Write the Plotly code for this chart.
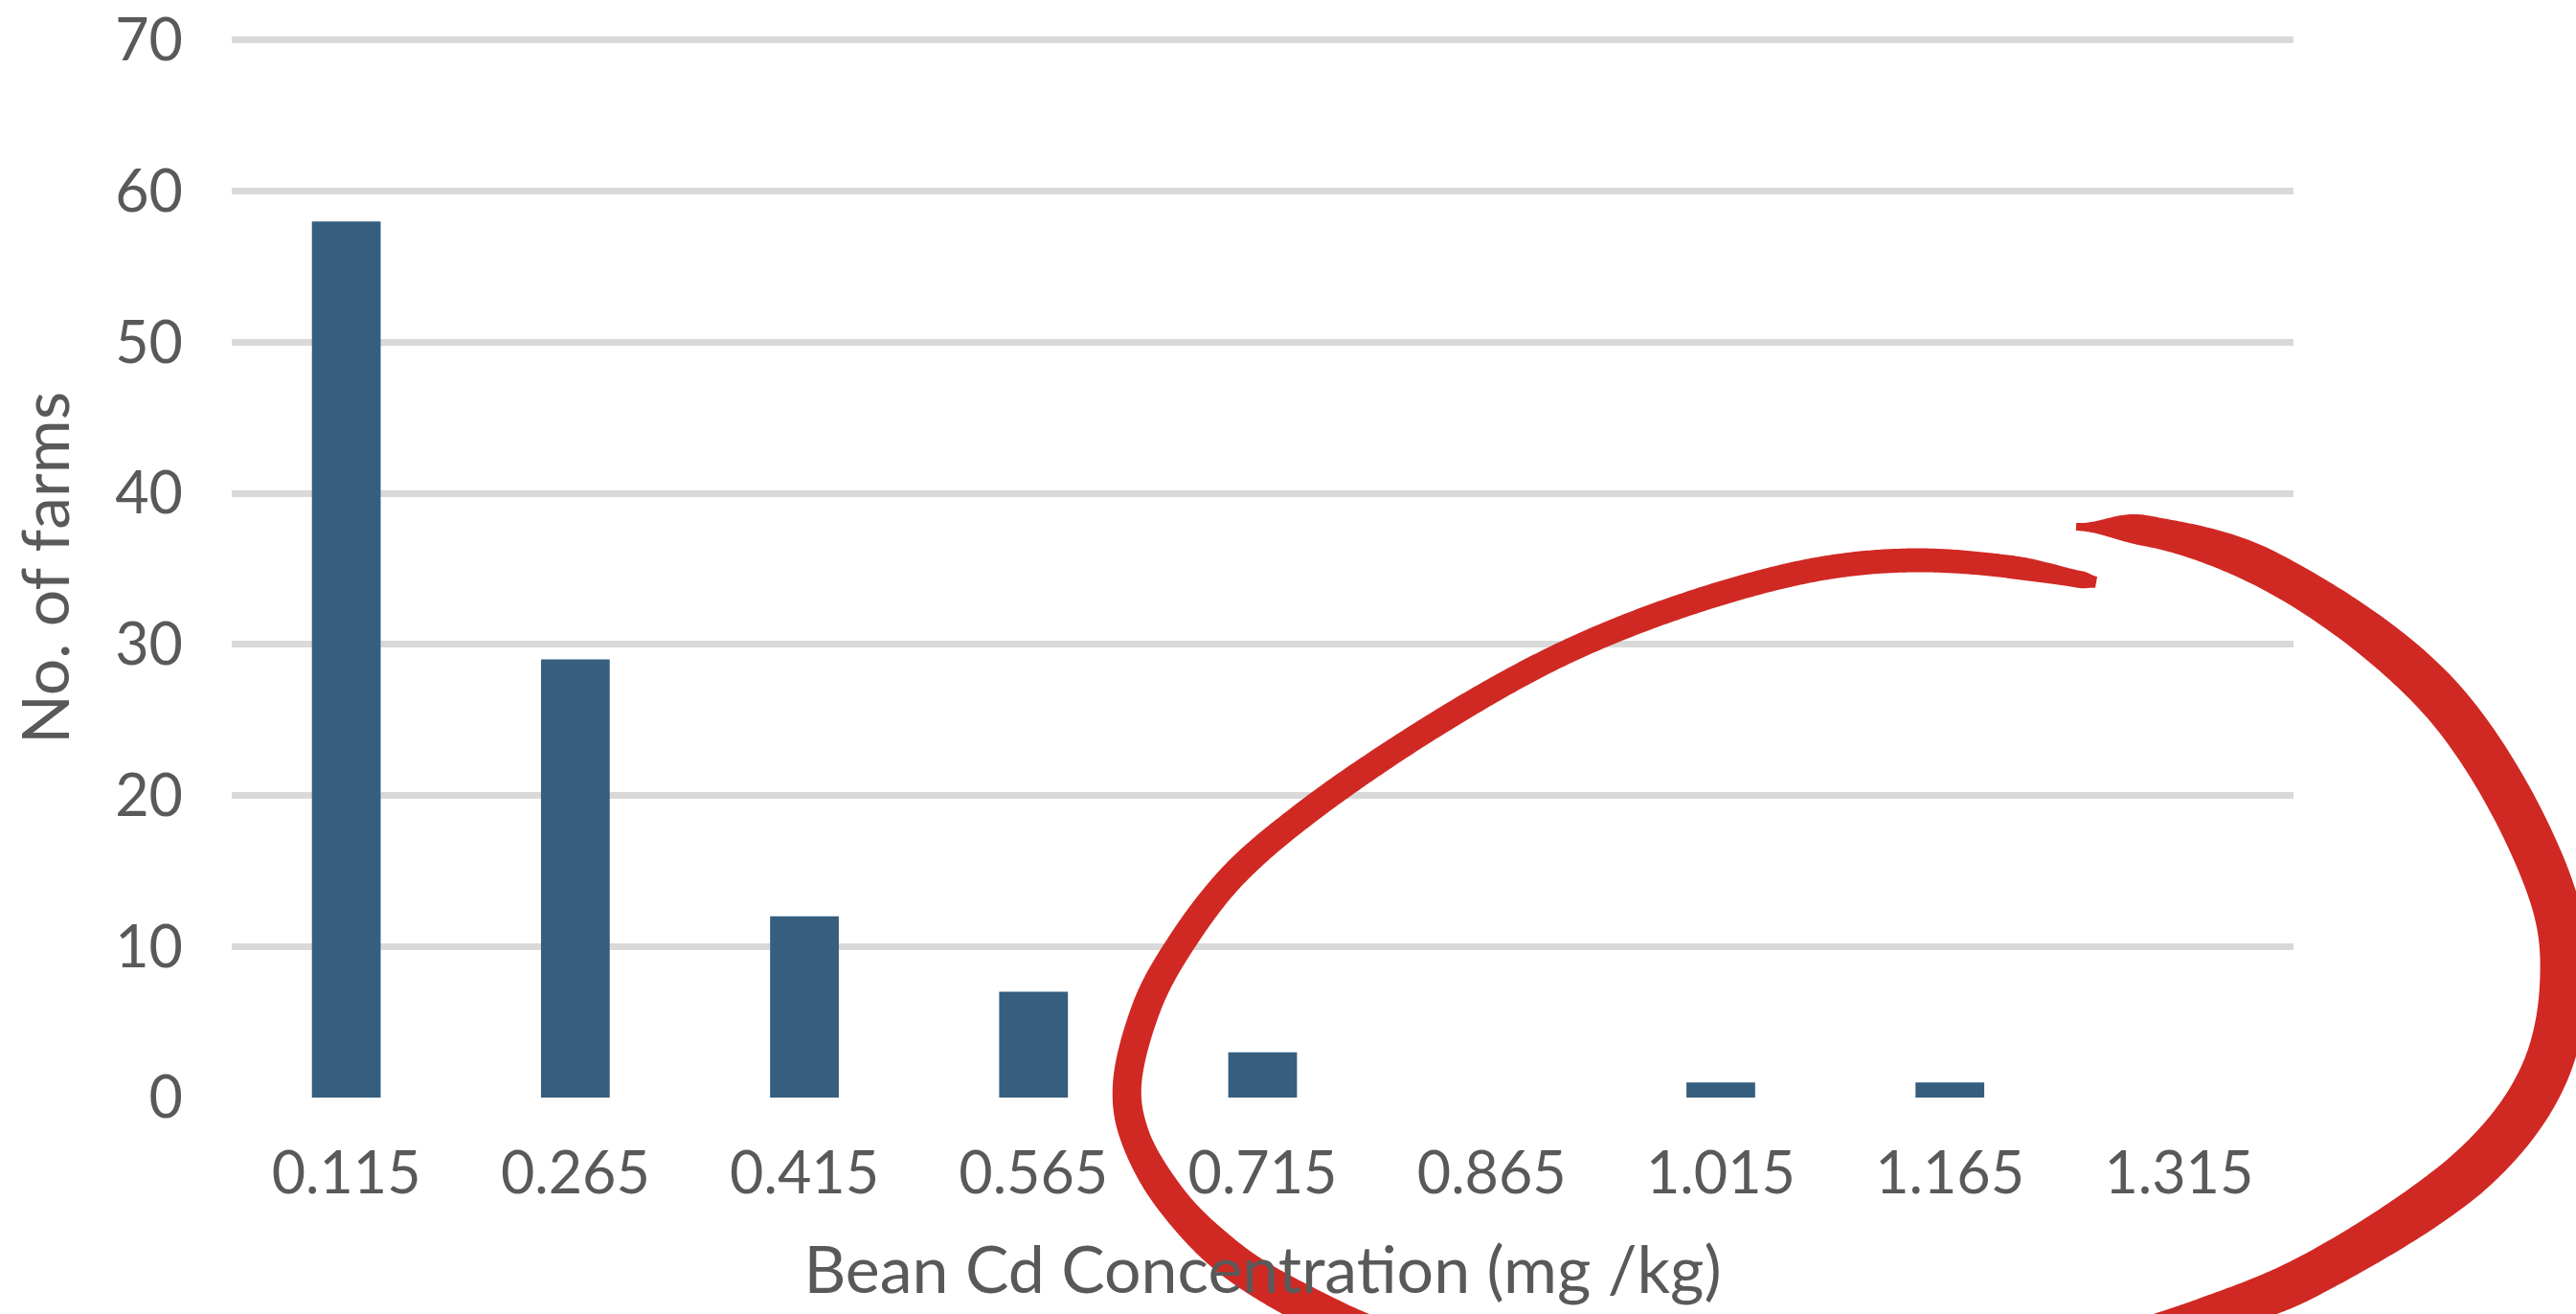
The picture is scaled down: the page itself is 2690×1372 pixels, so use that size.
import numpy as np
import plotly.graph_objects as go

# Histogram of bean cadmium concentration across farms
bin_labels = ["0.115", "0.265", "0.415", "0.565", "0.715", "0.865", "1.015", "1.165", "1.315"]
farm_counts = [58, 29, 12, 7, 3, 0, 1, 1, 0]
y_ticks = [0, 10, 20, 30, 40, 50, 60, 70]

W, H = 2690, 1372
ML, MR, MT, MB = 242, 295, 40, 226
PW, PH = W - ML - MR, H - MT - MB

TEXT = "#595959"
FONT = "Lato"

fig = go.Figure(
    go.Bar(
        x=bin_labels,
        y=farm_counts,
        marker=dict(color="#365E7E", line=dict(width=0)),
        hoverinfo="x+y",
    )
)


# ---- hand-drawn red loop highlighting the upper tail --------------------
def centripetal_spline(pts, widths, n=40, alpha=0.5):
    pts = np.asarray(pts, float)
    widths = np.asarray(widths, float)
    # extrapolated end points so the curve passes through the first and last points
    p = np.vstack([2 * pts[0] - pts[1], pts, 2 * pts[-1] - pts[-2]])
    w = np.concatenate([[widths[0]], widths, [widths[-1]]])
    out, wout = [], []
    for i in range(1, len(p) - 2):
        p0, p1, p2, p3 = p[i - 1], p[i], p[i + 1], p[i + 2]
        t0 = 0.0
        t1 = t0 + np.linalg.norm(p1 - p0) ** alpha
        t2 = t1 + np.linalg.norm(p2 - p1) ** alpha
        t3 = t2 + np.linalg.norm(p3 - p2) ** alpha
        for s in np.linspace(0, 1, n, endpoint=False):
            t = t1 + (t2 - t1) * s
            a1 = (t1 - t) / (t1 - t0) * p0 + (t - t0) / (t1 - t0) * p1
            a2 = (t2 - t) / (t2 - t1) * p1 + (t - t1) / (t2 - t1) * p2
            a3 = (t3 - t) / (t3 - t2) * p2 + (t - t2) / (t3 - t2) * p3
            b1 = (t2 - t) / (t2 - t0) * a1 + (t - t0) / (t2 - t0) * a2
            b2 = (t3 - t) / (t3 - t1) * a2 + (t - t1) / (t3 - t1) * a3
            c = (t2 - t) / (t2 - t1) * b1 + (t - t1) / (t2 - t1) * b2
            out.append(c)
            # smooth (eased) width change between control points
            e = 0.5 - 0.5 * np.cos(np.pi * s)
            wout.append(w[i] + (w[i + 1] - w[i]) * e)
    out.append(p[-2])
    wout.append(w[-2])
    return np.array(out), np.array(wout)


def brush_path(pts, widths):
    c, w = centripetal_spline(pts, widths)
    d = np.gradient(c, axis=0)
    d /= np.linalg.norm(d, axis=1)[:, None] + 1e-9
    nrm = np.column_stack([-d[:, 1], d[:, 0]])
    left = c + nrm * (w[:, None] / 2)
    right = c - nrm * (w[:, None] / 2)
    poly = np.vstack([left, right[::-1]])
    # figure pixels -> paper coordinates
    xs = (poly[:, 0] - ML) / PW
    ys = (H - MB - poly[:, 1]) / PH
    return "M " + " L ".join(f"{x:.5f},{y:.5f}" for x, y in zip(xs, ys)) + " Z"


# stroke running from the top, round the left side, off the bottom edge
stroke_a = [(2189, 608), (2172, 605), (2100, 592), (2000, 585), (1900, 594), (1767, 629),
            (1633, 682), (1500, 756), (1362, 850), (1285, 917), (1230, 990), (1198, 1050),
            (1177, 1133), (1184, 1183), (1221, 1250), (1288, 1317), (1388, 1375), (1470, 1410)]
width_a = [12, 18, 24, 25, 25, 25, 25, 26, 27, 28, 29, 30, 30, 31, 34, 38, 40, 40]

# stroke running from the top, down the right side, off the bottom edge
stroke_b = [(2168, 550), (2240, 554), (2368, 595), (2552, 733), (2665, 933), (2677, 1030),
            (2655, 1125), (2586, 1217), (2410, 1333), (2305, 1375), (2200, 1410)]
width_b = [8, 32, 41, 48, 49, 50, 50, 50, 45, 42, 42]

RED = "#D02924"
shapes = [
    dict(type="path", xref="paper", yref="paper", path=brush_path(stroke_a, width_a),
         fillcolor=RED, line=dict(width=0), layer="above"),
    dict(type="path", xref="paper", yref="paper", path=brush_path(stroke_b, width_b),
         fillcolor=RED, line=dict(width=0), layer="above"),
]

fig.update_layout(
    width=W,
    height=H,
    margin=dict(l=ML, r=MR, t=MT, b=MB, autoexpand=False),
    paper_bgcolor="white",
    plot_bgcolor="white",
    bargap=0.70,
    showlegend=False,
    font=dict(family=FONT, color=TEXT, size=61),
    shapes=shapes,
    xaxis=dict(
        type="category",
        showgrid=False,
        showline=False,
        zeroline=False,
        ticks="",
        tickfont=dict(family=FONT, size=61, color=TEXT),
        ticklabelstandoff=38,
        title=dict(text="Bean Cd Concentration (mg /kg)",
                   font=dict(family=FONT, size=68, color=TEXT), standoff=44),
        automargin=False,
    ),
    yaxis=dict(
        range=[0, 70.12],
        tickvals=y_ticks,
        showgrid=True,
        gridcolor="#D9D9D9",
        gridwidth=7,
        zeroline=False,
        showline=False,
        ticks="",
        tickfont=dict(family=FONT, size=61, color=TEXT),
        ticklabelstandoff=50,
        title=dict(text="No. of farms", font=dict(family=FONT, size=68, color=TEXT), standoff=25),
        automargin=False,
    ),
)

fig.write_html("out.html")
